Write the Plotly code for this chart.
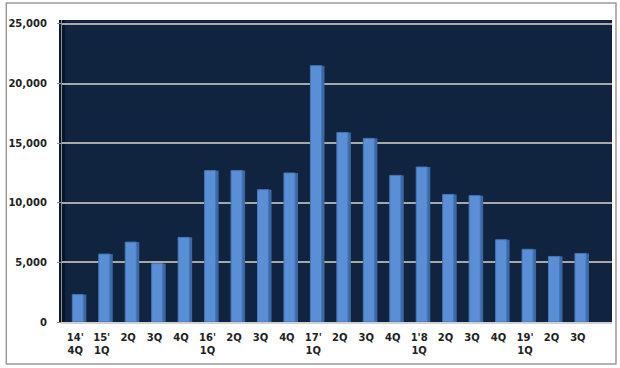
import plotly.graph_objects as go

categories = ["14'<br>4Q", "15'<br>1Q", "2Q", "3Q", "4Q", "16'<br>1Q", "2Q", "3Q", "4Q",
              "17'<br>1Q", "2Q", "3Q", "4Q", "1'8<br>1Q", "2Q", "3Q", "4Q",
              "19'<br>1Q", "2Q", "3Q"]
values = [2300, 5700, 6700, 4900, 7100, 12700, 12700, 11100, 12500, 21500,
          15900, 15400, 12300, 13000, 10700, 10600, 6900, 6100, 5500, 5750]
y_ticks = [0, 5000, 10000, 15000, 20000, 25000]
y_ticklabels = ["0", "5,000", "10,000", "15,000", "20,000", "25,000"]

W, H = 620, 368
L, R, T, B = 59, 8, 20, 46
pw, ph = W - L - R, H - T - B

def px(x):
    return (x - L) / pw

def py(y):
    return (H - B - y) / ph

xs = list(range(len(values)))

fig = go.Figure()
# side face (3D look)
fig.add_trace(go.Bar(
    x=xs, y=values,
    marker=dict(color="#3c68a6", line=dict(width=0)),
    width=0.12, offset=0.30,
    hoverinfo="skip",
))
# front face
fig.add_trace(go.Bar(
    x=xs, y=values,
    marker=dict(color="#5a8fd6", line=dict(color="#4576b8", width=1)),
    width=0.42, offset=-0.11,
    hoverinfo="y",
))

fig.update_layout(
    width=W, height=H,
    margin=dict(l=L, r=R, t=T, b=B),
    paper_bgcolor="white",
    plot_bgcolor="#10243f",
    showlegend=False,
    barmode="overlay",
    font=dict(family="DejaVu Sans", size=10, color="#222"),
    xaxis=dict(
        range=[-0.5, 20.29],
        tickmode="array",
        tickvals=xs,
        ticktext=categories,
        showgrid=False,
        showline=True, linecolor="#d0d0d0", linewidth=2,
        ticks="", ticklabelstandoff=5,
        tickfont=dict(family="DejaVu Sans", size=10, color="#222", weight="bold"),
        zeroline=False,
    ),
    yaxis=dict(
        range=[0, 25335],
        tickmode="array",
        tickvals=y_ticks,
        ticktext=y_ticklabels,
        showgrid=True, gridcolor="#a8a8a8", gridwidth=1.5,
        showline=True, linecolor="#909090", linewidth=1,
        ticks="outside", ticklen=4, tickcolor="#909090",
        ticklabelstandoff=8,
        tickfont=dict(family="DejaVu Sans", size=10, color="#222", weight="bold"),
        zeroline=False,
    ),
    shapes=[
        dict(type="rect", xref="paper", yref="paper",
             x0=px(3), x1=px(616), y0=py(364), y1=py(3),
             line=dict(color="#9a9a9a", width=1.5), fillcolor="rgba(0,0,0,0)", layer="below"),
        dict(type="rect", xref="paper", yref="paper",
             x0=px(56), x1=px(62), y0=py(322), y1=py(20),
             line=dict(width=0), fillcolor="#08162a", layer="below"),
    ],
)

fig.write_html("out.html")
